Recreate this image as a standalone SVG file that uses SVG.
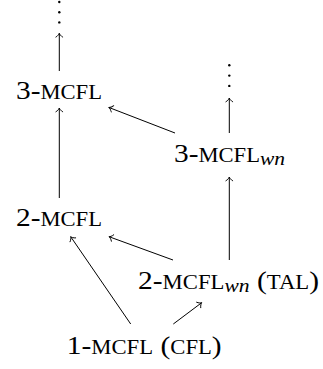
<svg xmlns="http://www.w3.org/2000/svg" width="323" height="369" viewBox="0 0 323 369">
<style>
text{font-family:"Liberation Serif","DejaVu Serif",serif;font-size:26px;fill:#000}
.sc{font-size:20px}
.it{font-style:italic;font-size:19px}
.e line{stroke:#000;stroke-width:1;fill:none;marker-end:url(#ah)}
.dot{fill:#000}
</style>
<defs>
<marker id="ah" markerUnits="userSpaceOnUse" viewBox="-6 -6 12 12" markerWidth="12" markerHeight="12" refX="0" refY="0" orient="auto" overflow="visible">
<path d="M-3.8,-3.4 C-2.6,-1.3 -0.9,-0.35 0,0 C-0.9,0.35 -2.6,1.3 -3.8,3.4" fill="none" stroke="#000" stroke-width="0.9" stroke-linecap="round"/>
</marker>
</defs>
<g id="dots-left">
<circle class="dot" cx="59.3" cy="2" r="1.2"/>
<circle class="dot" cx="59.3" cy="12.2" r="1.2"/>
<circle class="dot" cx="59.3" cy="22.4" r="1.2"/>
</g>
<g id="dots-right">
<circle class="dot" cx="229.3" cy="65.3" r="1.2"/>
<circle class="dot" cx="229.3" cy="75.6" r="1.2"/>
<circle class="dot" cx="229.3" cy="85.9" r="1.2"/>
</g>
<g id="n3mcfl"><text x="16" y="99" textLength="86" lengthAdjust="spacingAndGlyphs">3-<tspan class="sc">MCFL</tspan></text></g>
<g id="n3mcflwn"><text x="174" y="162" textLength="111" lengthAdjust="spacingAndGlyphs">3-<tspan class="sc">MCFL</tspan><tspan class="it" dy="3">wn</tspan></text></g>
<g id="n2mcfl"><text x="16" y="226" textLength="86" lengthAdjust="spacingAndGlyphs">2-<tspan class="sc">MCFL</tspan></text></g>
<g id="n2mcflwn"><text x="138" y="288.5" textLength="181" lengthAdjust="spacingAndGlyphs">2-<tspan class="sc">MCFL</tspan><tspan class="it" dy="3">wn</tspan><tspan dy="-3"> (</tspan><tspan class="sc">TAL</tspan>)</text></g>
<g id="n1mcfl"><text x="66.7" y="353.5" textLength="155" lengthAdjust="spacingAndGlyphs">1-<tspan class="sc">MCFL</tspan> (<tspan class="sc">CFL</tspan>)</text></g>
<g id="connectors" class="e">
<line x1="59.3" y1="71" x2="59.3" y2="33.3"/>
<line x1="59.3" y1="198" x2="59.3" y2="108"/>
<line x1="175" y1="133" x2="109" y2="107.5"/>
<line x1="229.3" y1="133" x2="229.3" y2="98"/>
<line x1="229.3" y1="260" x2="229.3" y2="177"/>
<line x1="173" y1="260" x2="109" y2="236.7"/>
<line x1="130.7" y1="324" x2="70.7" y2="236.7"/>
<line x1="173.3" y1="324" x2="201.7" y2="302.7"/>
</g>
</svg>
